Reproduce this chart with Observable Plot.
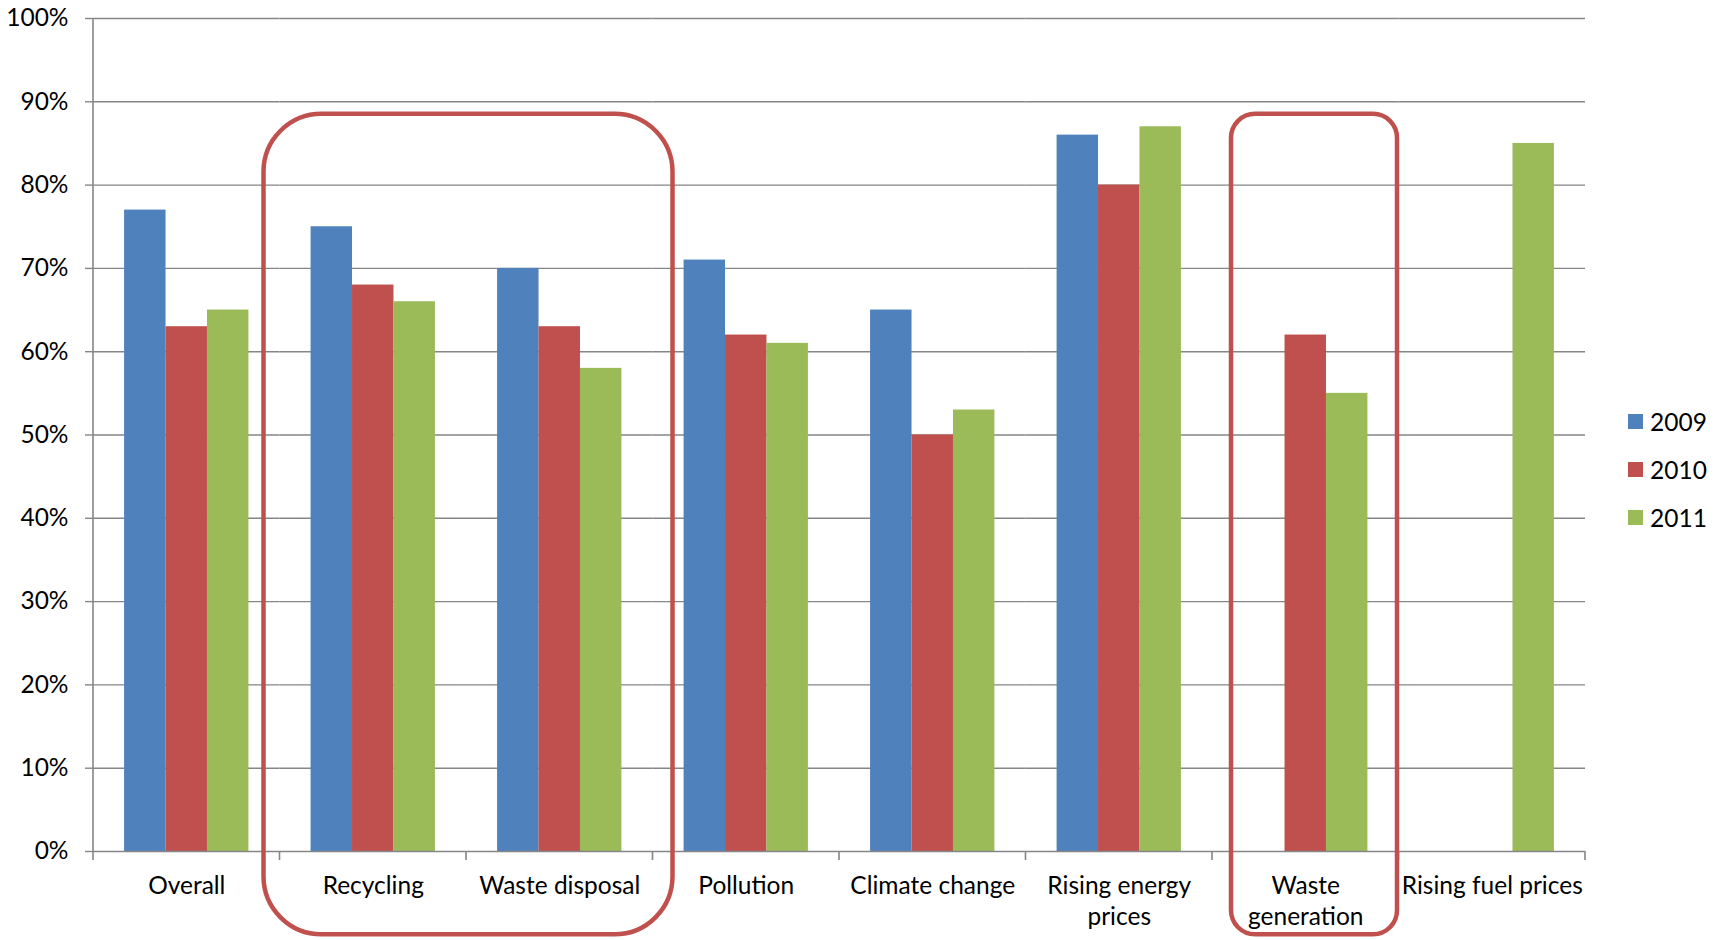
<!DOCTYPE html>
<html>
<head>
<meta charset="utf-8">
<script src="https://cdn.jsdelivr.net/npm/d3@7"></script>
<script src="https://cdn.jsdelivr.net/npm/@observablehq/plot@0.6"></script>
<style>
  html, body { margin: 0; padding: 0; background: #fff; overflow: hidden; }
  #wrap { position: relative; width: 1721px; height: 940px; font-family: Lato, "Open Sans", sans-serif; }
  #legend { position: absolute; left: 1628px; top: 397px; font-size: 24.5px; color: #000; }
  .item { display: flex; align-items: center; height: 48px; }
  .sw { width: 15px; height: 15px; margin-right: 7px; }
</style>
</head>
<body>
<div id="wrap"></div>
<script>
// ---- data ----
const categories = ["Overall", "Recycling", "Waste disposal", "Pollution", "Climate change", "Rising energy prices", "Waste generation", "Rising fuel prices"];
const categoryLabels = ["Overall", "Recycling", "Waste disposal", "Pollution", "Climate change", "Rising energy\nprices", "Waste\ngeneration", "Rising fuel prices"];
const years = ["2009", "2010", "2011"];
const values2009 = [0.77, 0.75, 0.70, 0.71, 0.65, 0.86, null, null];
const values2010 = [0.63, 0.68, 0.63, 0.62, 0.50, 0.80, 0.62, null];
const values2011 = [0.65, 0.66, 0.58, 0.61, 0.53, 0.87, 0.55, 0.85];
const yTicks = [0, 0.1, 0.2, 0.3, 0.4, 0.5, 0.6, 0.7, 0.8, 0.9, 1.0];
const highlightGroups = [["Recycling", "Waste disposal"], ["Waste generation"]];
const highlightRange = [-0.10, 0.885];

const colors = ["#4f81bd", "#c0504d", "#9bbb59"];
const gray = "#868686";
const seriesValues = [values2009, values2010, values2011];

const table = [];
years.forEach((yr, j) => {
  categories.forEach((c, i) => {
    const v = seriesValues[j][i];
    if (v != null) table.push({category: c, year: yr, value: v});
  });
});
const labelOf = new Map(categories.map((c, i) => [c, categoryLabels[i]]));

const plot = Plot.plot({
  width: 1721,
  height: 940,
  marginLeft: 93,
  marginRight: 136,
  marginTop: 18,
  marginBottom: 89,
  style: {fontFamily: "Lato, 'Open Sans', sans-serif", fontSize: "24.5px", color: "#000", background: "#fff"},
  fx: {domain: categories, padding: 0, round: false, axis: null, label: null},
  x: {domain: years, paddingInner: 0, paddingOuter: 0.75, round: false, axis: null, label: null},
  y: {domain: [0, 1], axis: null, label: null},
  color: {domain: years, range: colors},
  marks: [
    Plot.ruleY(yTicks.slice(1), {stroke: gray, strokeWidth: 1.4}),
    Plot.barY(table, {fx: "category", x: "year", y: "value", fill: "year", inset: 0}),
    Plot.ruleY([0], {stroke: gray, strokeWidth: 1.6}),
    Plot.axisY({ticks: yTicks, tickFormat: d3.format(".0%"), tickSize: 8, tickPadding: 17,
                stroke: gray, strokeWidth: 1.4, fontSize: 24.5, label: null}),
    Plot.axisFx({anchor: "bottom", tickSize: 0, tickPadding: 21, tickFormat: d => labelOf.get(d),
                 fontSize: 24.5, lineHeight: 1.25, label: null})
  ]
});

// overlay: axis line, category boundary ticks, highlight boxes (via the plot's scales)
const svg = d3.select(plot);
const fx = plot.scale("fx");
const y = plot.scale("y");
const bw = fx.bandwidth;
const y0 = y.apply(0), y1 = y.apply(1);
const xStart = fx.apply(categories[0]);
const g = svg.append("g");
g.append("line").attr("x1", xStart).attr("x2", xStart).attr("y1", y1).attr("y2", y0)
  .attr("stroke", gray).attr("stroke-width", 1.6);
const bounds = categories.map(c => fx.apply(c)).concat([fx.apply(categories[categories.length - 1]) + bw]);
bounds.forEach(b => {
  g.append("line").attr("x1", b).attr("x2", b).attr("y1", y0).attr("y2", y0 + 9)
    .attr("stroke", gray).attr("stroke-width", 1.6);
});
// outward offsets (px) of each highlight box relative to its category bands
const boxStyles = [{padL: 16, padR: 20, r: 58}, {padL: -19, padR: -1.5, r: 24}];
highlightGroups.forEach((grp, k) => {
  const s = boxStyles[k];
  const xa = fx.apply(grp[0]) - s.padL;
  const xb = fx.apply(grp[grp.length - 1]) + bw + s.padR;
  const ya = y.apply(highlightRange[1]);
  const yb = y.apply(highlightRange[0]);
  g.append("rect").attr("x", xa).attr("y", ya).attr("width", xb - xa).attr("height", yb - ya)
    .attr("rx", s.r).attr("ry", s.r)
    .attr("fill", "none").attr("stroke", "#c0504d").attr("stroke-width", 4.5);
});

const wrap = document.getElementById("wrap");
wrap.appendChild(plot);

// legend
const legend = document.createElement("div");
legend.id = "legend";
years.forEach((yr, j) => {
  const it = document.createElement("div");
  it.className = "item";
  const sw = document.createElement("span");
  sw.className = "sw";
  sw.style.background = colors[j];
  const t = document.createElement("span");
  t.textContent = yr;
  it.appendChild(sw); it.appendChild(t);
  legend.appendChild(it);
});
wrap.appendChild(legend);
</script>
</body>
</html>
